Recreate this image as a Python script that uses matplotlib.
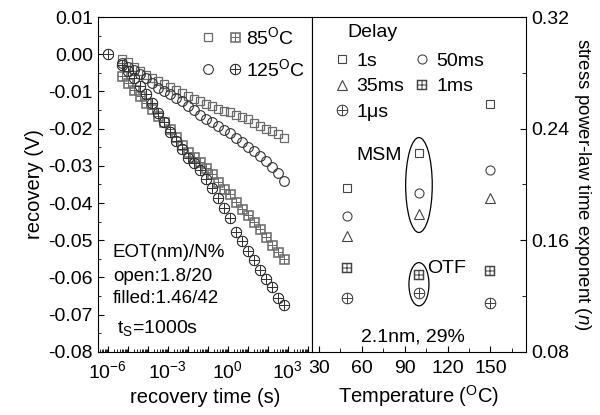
import numpy as np
import matplotlib
matplotlib.use('Agg')
import matplotlib.pyplot as plt
from matplotlib.patches import Ellipse
from matplotlib.legend_handler import HandlerTuple
from matplotlib.ticker import FixedLocator, LogLocator, MultipleLocator, FormatStrFormatter, FuncFormatter, NullFormatter

plt.rcParams['font.family'] = ['Liberation Sans', 'DejaVu Sans']
plt.rcParams['mathtext.fontset'] = 'custom'
plt.rcParams['mathtext.rm'] = 'Liberation Sans'
plt.rcParams['mathtext.it'] = 'Liberation Sans:italic'
plt.rcParams['font.size'] = 14

# recovery time (s), roughly doubling steps
t = [5e-6, 1e-5, 2e-5, 4e-5, 8e-5, 1.6e-4, 3.2e-4, 6.4e-4, 1.28e-3, 2.56e-3,
     5.12e-3, 1.02e-2, 2.05e-2, 4.1e-2, 8.2e-2, 0.164, 0.328, 0.655, 1.31, 2.62,
     5.24, 10.5, 21, 42, 84, 168, 336, 671]

# open sample (1.8nm / 20%)
sq85 = [-0.0012, -0.0022, -0.0033, -0.0045, -0.0055, -0.0064, -0.0072, -0.0080, -0.0088, -0.0096,
        -0.0104, -0.0112, -0.0120, -0.0127, -0.0134, -0.0140, -0.0147, -0.0152, -0.0156, -0.0162,
        -0.0169, -0.0175, -0.0185, -0.0193, -0.0200, -0.0207, -0.0215, -0.0226]
ci125 = [-0.0024, -0.0034, -0.0043, -0.0053, -0.0064, -0.0077, -0.0090, -0.0100, -0.0108, -0.0117,
         -0.0127, -0.0139, -0.0151, -0.0163, -0.0173, -0.0182, -0.0192, -0.0203, -0.0213, -0.0224,
         -0.0235, -0.0248, -0.0261, -0.0274, -0.0287, -0.0303, -0.0320, -0.0340]
# filled sample (1.46nm / 42%)
bp85 = [-0.0058, -0.0077, -0.0095, -0.0113, -0.0130, -0.0147, -0.0165, -0.0183, -0.0202, -0.0222,
        -0.0243, -0.0262, -0.0276, -0.0290, -0.0307, -0.0323, -0.0343, -0.0361, -0.0376, -0.0397,
        -0.0416, -0.0433, -0.0452, -0.0471, -0.0492, -0.0512, -0.0532, -0.0551]
t_op = [1e-6] + t
op125 = [0.0, -0.0028, -0.0045, -0.0063, -0.0085, -0.0107, -0.0132, -0.0158, -0.0183, -0.0208, -0.0232,
         -0.0255, -0.0278, -0.0293, -0.0310, -0.0335, -0.0360, -0.0386, -0.0412, -0.0440, -0.0478,
         -0.0503, -0.0528, -0.0554, -0.0580, -0.0604, -0.0626, -0.0654, -0.0675]

# exponent n vs temperature for each delay
temp = [50, 100, 150]
n_1s = [0.1975, 0.2224, 0.2577]
n_50ms = [0.1774, 0.1940, 0.2104]
n_35ms = [0.1630, 0.1790, 0.1900]
n_1ms = [0.1400, 0.1350, 0.1380]
n_1us = [0.1185, 0.1220, 0.1153]

msm_ell = [100, 0.1996, 18.6, 0.068]
otf_ell = [100, 0.1285, 14.0, 0.031]

fig = plt.figure(figsize=(6.0, 4.15), dpi=100)
ax1 = fig.add_axes([0.163, 0.152, 0.3565, 0.807])
ax2 = fig.add_axes([0.5195, 0.152, 0.3575, 0.807])

c_sq = '#6a6a6a'
c_ci = '#333333'
ms = 6.2
l_sq, = ax1.plot(t, sq85, ls='none', marker='s', ms=ms, mfc='none', mec=c_sq, mew=0.9)
l_ci, = ax1.plot(t, ci125, ls='none', marker='o', ms=ms + 0.8, mfc='none', mec=c_ci, mew=0.8)
l_bp, = ax1.plot(t, bp85, ls='none', marker=r'$\boxplus$', ms=ms + 1, color=c_sq, mew=0.4)
l_op, = ax1.plot(t_op, op125, ls='none', marker=r'$\oplus$', ms=ms + 1.6, color=c_ci, mew=0.4)

ax1.set_xscale('log')
ax1.set_xlim(10 ** -6.5, 10 ** 4.2)
ax1.set_ylim(-0.08, 0.01)
ax1.xaxis.set_major_locator(LogLocator(base=10, subs=(1.0,), numticks=30))
ax1.xaxis.set_major_formatter(FuncFormatter(
    lambda v, p: ('10$^{%d}$' % round(np.log10(v))) if round(np.log10(v)) % 3 == 0 else ''))
ax1.xaxis.set_minor_locator(LogLocator(base=10, subs=np.arange(2, 10), numticks=30))
ax1.xaxis.set_minor_formatter(NullFormatter())
ax1.yaxis.set_major_locator(MultipleLocator(0.01))
ax1.yaxis.set_minor_locator(MultipleLocator(0.005))
ax1.yaxis.set_major_formatter(FormatStrFormatter('%.2f'))
ax1.tick_params(which='both', direction='in', top=False, right=False, labelsize=14)
ax1.tick_params(which='major', length=4, width=0.8)
ax1.tick_params(axis='x', which='major', pad=6)
ax1.tick_params(which='minor', length=2, width=0.6)
ax1.set_xlabel('recovery time (s)', labelpad=4, fontsize=14.5)
ax1.set_ylabel('recovery (V)', labelpad=3, fontsize=14.5)

leg1 = ax1.legend([(l_sq, l_bp), (l_ci, l_op)], ['85$^{\\rm O}$C', '125$^{\\rm O}$C'],
                  handler_map={tuple: HandlerTuple(ndivide=None, pad=0.7)},
                  loc='upper right', bbox_to_anchor=(1.05, 1.025), frameon=False,
                  handlelength=2.0, handletextpad=0.25, labelspacing=0.5, fontsize=14)

ax1.text(0.07, 0.296, 'EOT(nm)/N%', transform=ax1.transAxes, fontsize=13.5, va='center')
ax1.text(0.07, 0.224, 'open:1.8/20', transform=ax1.transAxes, fontsize=13.5, va='center')
ax1.text(0.07, 0.161, 'filled:1.46/42', transform=ax1.transAxes, fontsize=13.5, va='center')
ax1.text(0.09, 0.07, 't$_{\\rm S}$=1000s', transform=ax1.transAxes, fontsize=14, va='center')

ms2 = 5.5
c2 = '#444444'
h1, = ax2.plot(temp, n_1s, ls='none', marker='s', ms=ms2, mfc='none', mec=c2, mew=0.8)
h2, = ax2.plot(temp, n_50ms, ls='none', marker='o', ms=ms2 + 1, mfc='none', mec=c2, mew=0.8)
h3, = ax2.plot(temp, n_35ms, ls='none', marker='^', ms=ms2 + 1.5, mfc='none', mec=c2, mew=0.8)
h4, = ax2.plot(temp, n_1ms, ls='none', marker=r'$\boxplus$', ms=ms2 + 1.5, color=c2, mew=0.35)
h5, = ax2.plot(temp, n_1us, ls='none', marker=r'$\oplus$', ms=ms2 + 2.5, color=c2, mew=0.35)

for e in (msm_ell, otf_ell):
    ax2.add_patch(Ellipse((e[0], e[1]), e[2], e[3], fill=False, ec='black', lw=0.9))

ax2.set_xlim(25, 175)
ax2.set_ylim(0.08, 0.32)
ax2.xaxis.set_major_locator(FixedLocator([30, 60, 90, 120, 150]))
ax2.xaxis.set_minor_locator(MultipleLocator(15))
ax2.yaxis.set_major_locator(MultipleLocator(0.08))
ax2.yaxis.set_minor_locator(MultipleLocator(0.04))
ax2.yaxis.set_major_formatter(FormatStrFormatter('%.2f'))
ax2.yaxis.tick_right()
ax2.yaxis.set_label_position('right')
ax2.tick_params(which='both', direction='in', top=False, left=False, right=True, labelsize=14)
ax2.tick_params(which='major', length=4, width=0.8)
ax2.tick_params(axis='x', which='major', pad=6)
ax2.tick_params(which='minor', length=3, width=0.6)
ax2.set_xlabel('Temperature ($^{\\rm O}$C)', labelpad=4, fontsize=14.5)
ax2.set_ylabel('stress power-law time exponent ($\\mathit{n}$)', rotation=270,
               labelpad=17, fontsize=13.5)

ax2.text(0.165, 0.955, 'Delay', transform=ax2.transAxes, ha='left', va='center', fontsize=14)
leg2 = ax2.legend([h1, h3, h5, h2, h4], ['1s', '35ms', '1μs', '50ms', '1ms'],
                  ncol=2, loc='upper left', bbox_to_anchor=(0.04, 0.935),
                  frameon=False, handlelength=0.8, handletextpad=0.35, columnspacing=0.5,
                  labelspacing=0.4, fontsize=14, borderaxespad=0.3)

ax2.text(88, 0.221, 'MSM', ha='right', va='center', fontsize=14)
ax2.text(106, 0.140, 'OTF', ha='left', va='center', fontsize=14)
ax2.text(0.47, 0.045, '2.1nm, 29%', transform=ax2.transAxes, ha='center', va='center', fontsize=14)

fig.savefig('out.png', dpi=100)
